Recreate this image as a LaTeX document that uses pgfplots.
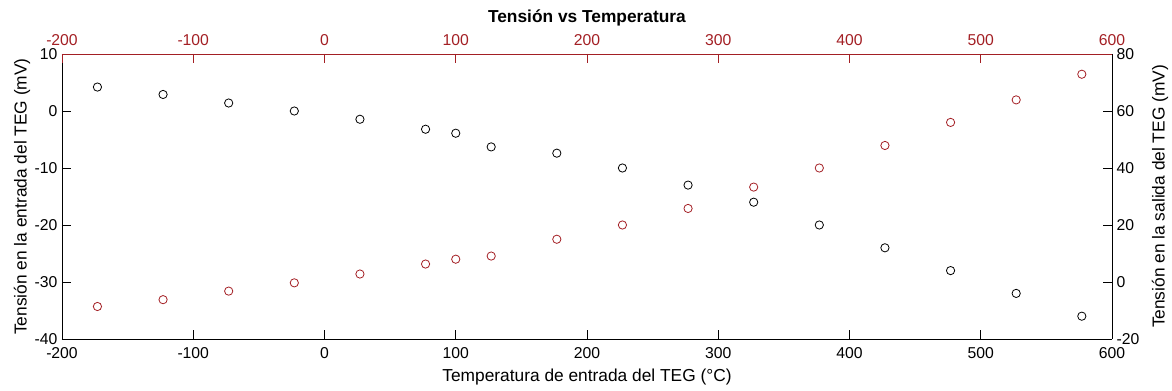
\documentclass[border=0pt]{standalone}
\usepackage{fontspec}
\setmainfont{Liberation Sans}
\usepackage{pgfplots}
\pgfplotsset{compat=1.18}
\definecolor{mred}{rgb}{0.64,0.12,0.14}
\begin{document}
\begin{tikzpicture}
\useasboundingbox (-46.5pt,-39pt) rectangle (832.5pt,254.25pt);
\pgfplotsset{
  every axis/.append style={
    scale only axis, width=787.5pt, height=213.75pt,
    at={(0pt,0pt)}, anchor=south west,
    xmin=-200, xmax=600,
    tick align=inside,
    major tick length=7pt,
    tick label style={font=\fontsize{11.8}{13}\selectfont},
    label style={font=\fontsize{13}{15}\selectfont},
    /pgf/number format/assume math mode=true,
    axis line style={line width=0.7pt},
    every tick/.style={line width=0.5pt},
  }
}
\begin{axis}[
  axis x line*=bottom, axis y line*=left,
  ymin=-40, ymax=10,
  xtick={-200,-100,...,600},
  ytick={-40,-30,...,10},
  xticklabel style={yshift=-3pt},
  xlabel={Temperatura de entrada del TEG (°C)},
  xlabel style={at={(axis description cs:0.5,-0.1333)}, anchor=center},
  ylabel={Tensión en la entrada del TEG (mV)},
  ylabel style={at={(axis description cs:-0.0381,0.5)}, anchor=center},
  title={\textbf{Tensión vs Temperatura}},
  every axis title shift=0pt,
  title style={at={(axis description cs:0.5,1.1263)}, anchor=center, font=\fontsize{13}{15}\selectfont},
]
\addplot[only marks, mark=o, mark size=3.1pt, mark options={line width=0.6pt, draw=black}] coordinates {
(-173,4.2) (-123,2.9) (-73,1.4) (-23,0) (27,-1.45) (77,-3.2) (100,-3.9) (127,-6.3) (177,-7.4)
(227,-10) (277,-13) (327,-16) (377,-20) (427,-24) (477,-28) (527,-32) (577,-36)
};
\end{axis}
\begin{axis}[
  axis x line*=top, axis y line*=right,
  ymin=-20, ymax=80,
  xtick={-200,-100,...,600},
  ytick={-20,0,...,80},
  x axis line style={draw=mred},
  xticklabel style={text=mred, yshift=3pt},
  xtick style={draw=mred},
  ylabel={Tensión en la salida del TEG (mV)},
  ylabel style={at={(axis description cs:1.0457,0.5)}, anchor=center},
]
\addplot[only marks, mark=o, mark size=3.1pt, mark options={line width=0.6pt, draw=mred}] coordinates {
(-173,-8.6) (-123,-6.2) (-73,-3.2) (-23,-0.3) (27,2.8) (77,6.3) (100,8.0) (127,9.1) (177,15.0)
(227,20) (277,25.8) (327,33.3) (377,40) (427,47.9) (477,56) (527,63.9) (577,72.9)
};
\end{axis}
\end{tikzpicture}
\end{document}
